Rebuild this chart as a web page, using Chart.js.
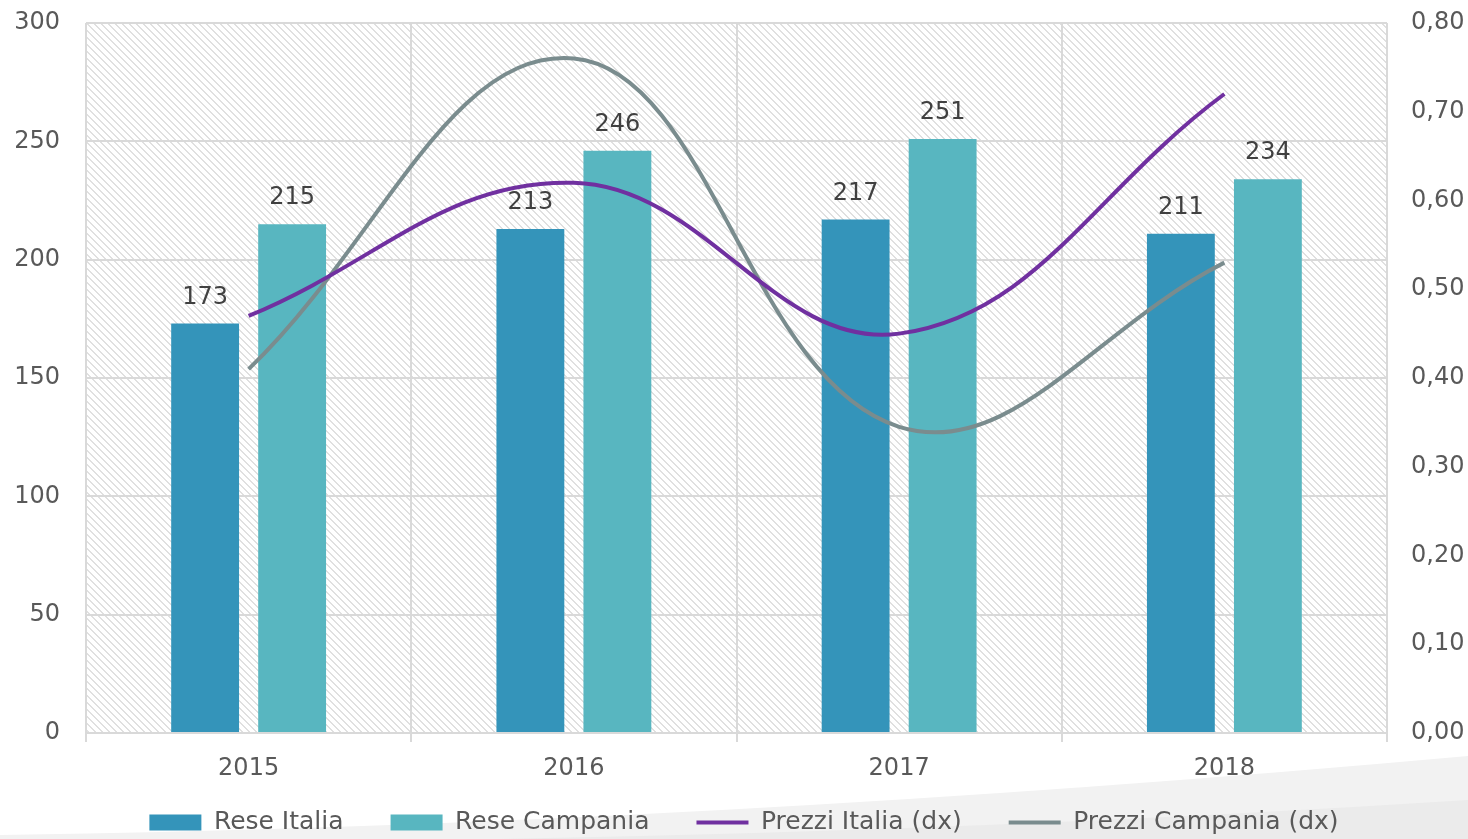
<!DOCTYPE html>
<html>
<head>
<meta charset="utf-8">
<script src="https://cdn.jsdelivr.net/npm/chart.js@4/dist/chart.umd.min.js"></script>
<style>
  html, body { margin: 0; padding: 0; background: #fff; }
  #wrap { width: 1468px; height: 839px; position: relative; }
</style>
</head>
<body>
<div id="wrap"><canvas id="chart"></canvas></div>
<script>
const years = ['2015', '2016', '2017', '2018'];
const reseItalia = [173, 213, 217, 211];
const reseCampania = [215, 246, 251, 234];
const prezziItalia = [0.47, 0.62, 0.45, 0.72];
const prezziCampania = [0.41, 0.76, 0.345, 0.53];

const FONT = 'DejaVu Sans';
const TXT = '#595959';
const GRID = '#d9d9d9';

// diagonal hatch for the plot area (pixel stairs, no antialiasing)
function makeHatch() {
  const n = 7;
  const c = document.createElement('canvas');
  c.width = n; c.height = n;
  const g = c.getContext('2d');
  g.fillStyle = '#fff';
  g.fillRect(0, 0, n, n);
  g.fillStyle = '#e0e0e0';
  for (let i = 0; i < n; i++) {
    g.fillRect(i, i, 1, 1);
    g.fillRect((i + 1) % n, i, 1, 1);
  }
  return g.createPattern(c, 'repeat');
}

const backdrop = {
  id: 'backdrop',
  afterLayout(chart) {
    // legend sits a little higher (and right) of its box
    if (chart.legend) {
      chart.legend.top -= 22;
      chart.legend.left += 10;
      chart.legend.right += 10;
    }
  },
  beforeDraw(chart) {
    const { ctx, chartArea: a, width, height } = chart;
    ctx.save();
    // bottom swoosh
    ctx.fillStyle = '#f2f2f2';
    ctx.beginPath();
    ctx.moveTo(0, height);
    ctx.lineTo(0, 835);
    ctx.quadraticCurveTo(700, 825, width, 756);
    ctx.lineTo(width, height);
    ctx.closePath();
    ctx.fill();
    ctx.fillStyle = '#ebebeb';
    ctx.beginPath();
    ctx.moveTo(500, height);
    ctx.quadraticCurveTo(1000, 830, width, 800);
    ctx.lineTo(width, height);
    ctx.closePath();
    ctx.fill();
    // hatch
    ctx.fillStyle = makeHatch();
    ctx.fillRect(a.left, a.top, a.right - a.left, a.bottom - a.top);
    ctx.restore();
  }
};

const barLabels = {
  id: 'barLabels',
  afterDatasetsDraw(chart) {
    const { ctx } = chart;
    ctx.save();
    ctx.font = `24px "${FONT}"`;
    ctx.fillStyle = '#404040';
    ctx.textAlign = 'center';
    ctx.textBaseline = 'bottom';
    chart.data.datasets.forEach((ds, i) => {
      if (ds.type !== 'bar') return;
      chart.getDatasetMeta(i).data.forEach((bar, j) => {
        ctx.fillText(ds.data[j], bar.x, bar.y - 14);
      });
    });
    ctx.restore();
  }
};

const noPad = s => { s.paddingTop = 0; s.paddingBottom = 0; };

new Chart(document.getElementById('chart'), {
  data: {
    labels: years,
    datasets: [
      {
        type: 'bar',
        label: 'Rese Italia',
        data: reseItalia,
        backgroundColor: '#3494ba',
        yAxisID: 'y',
        order: 1,
        pointStyle: 'rect',
        barPercentage: 0.78,
        categoryPercentage: 0.535,
      },
      {
        type: 'bar',
        label: 'Rese Campania',
        data: reseCampania,
        backgroundColor: '#58b6c0',
        yAxisID: 'y',
        order: 1,
        pointStyle: 'rect',
        barPercentage: 0.78,
        categoryPercentage: 0.535,
      },
      {
        type: 'line',
        label: 'Prezzi Italia (dx)',
        data: prezziItalia,
        borderColor: '#7030a0',
        backgroundColor: '#7030a0',
        borderWidth: 4,
        pointRadius: 0,
        pointStyle: 'line',
        tension: 0.4,
        yAxisID: 'y1',
        order: 0,
      },
      {
        type: 'line',
        label: 'Prezzi Campania (dx)',
        data: prezziCampania,
        borderColor: '#7a8c8e',
        backgroundColor: '#7a8c8e',
        borderWidth: 4,
        pointRadius: 0,
        pointStyle: 'line',
        tension: 0.4,
        yAxisID: 'y1',
        order: 0,
      },
    ],
  },
  options: {
    responsive: true,
    maintainAspectRatio: false,
    animation: false,
    layout: { padding: { top: 23, left: 0, right: 0, bottom: 0 } },
    plugins: {
      tooltip: { enabled: false },
      legend: {
        position: 'bottom',
        maxHeight: 54,
        labels: {
          usePointStyle: true,
          pointStyleWidth: 52,
          boxHeight: 16,
          padding: 47,
          color: TXT,
          font: { family: FONT, size: 25 },
          sort: (a, b) => a.datasetIndex - b.datasetIndex,
        },
      },
    },
    scales: {
      x: {
        grid: { offset: true, color: GRID, lineWidth: 2, drawTicks: true, tickLength: 9 },
        border: { color: GRID, width: 2 },
        ticks: { color: TXT, font: { family: FONT, size: 24 }, padding: 12 },
        afterFit: s => { s.height = 52; },
      },
      y: {
        position: 'left',
        min: 0, max: 300,
        ticks: { stepSize: 50, color: TXT, font: { family: FONT, size: 24 }, padding: 26 },
        grid: { color: GRID, lineWidth: 2, drawTicks: false },
        border: { display: false },
        afterFit: s => { s.width = 86; noPad(s); },
      },
      y1: {
        position: 'right',
        min: 0, max: 0.8,
        ticks: {
          stepSize: 0.1, color: TXT, font: { family: FONT, size: 24 }, padding: 24,
          callback: v => v.toFixed(2).replace('.', ','),
        },
        grid: { display: false, drawTicks: false },
        border: { display: false },
        afterFit: s => { s.width = 81; noPad(s); },
      },
    },
  },
  plugins: [backdrop, barLabels],
});
</script>
</body>
</html>
